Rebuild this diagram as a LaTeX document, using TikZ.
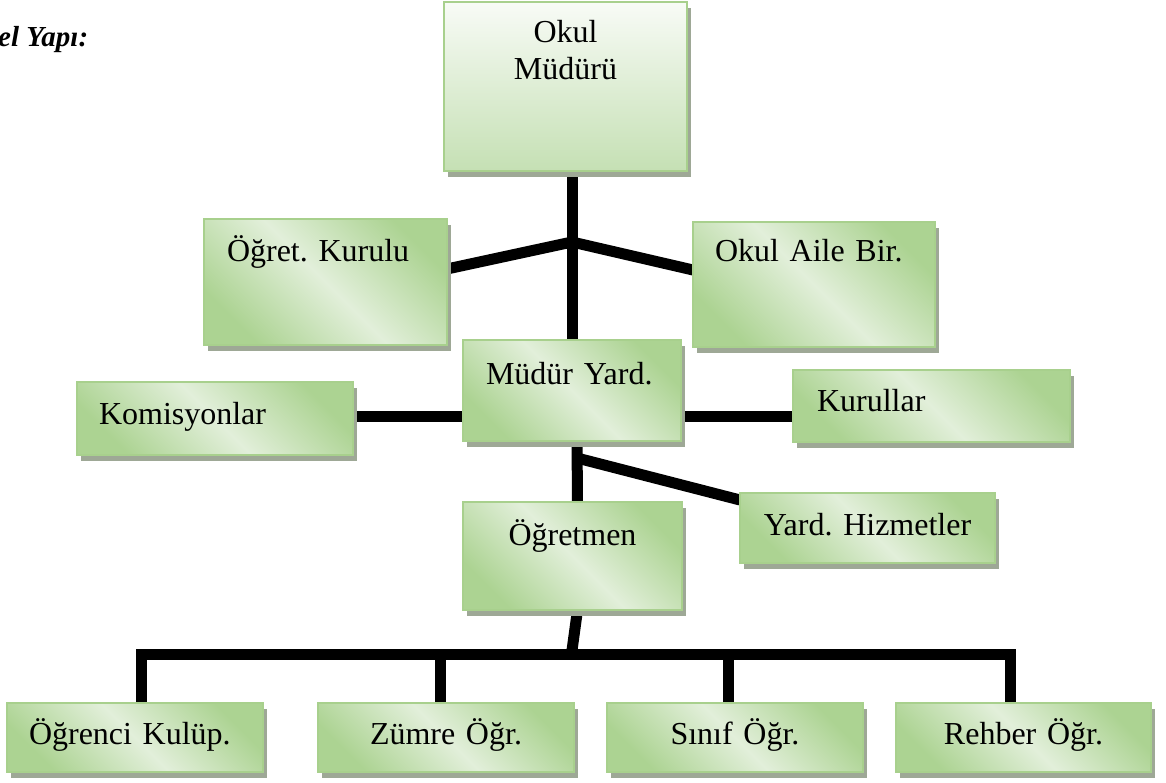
\documentclass[tikz,border=0pt]{standalone}
\usepackage{fontspec}
\setmainfont{Liberation Serif}
\usetikzlibrary{positioning,shadows,backgrounds}
\definecolor{boxedge}{RGB}{168,208,141}
\definecolor{boxgreen}{RGB}{172,211,146}
\definecolor{boxlight}{RGB}{226,239,218}
\definecolor{headtop}{RGB}{248,251,246}
\definecolor{headbottom}{RGB}{197,224,180}
\definecolor{shadowgray}{RGB}{158,168,150}
\frenchspacing

\begin{document}
\begin{tikzpicture}[x=1pt,y=-1pt,
    unit node/.style={draw=boxedge,line width=2pt,anchor=north west,inner ysep=0pt,outer sep=0pt,
        font=\fontsize{32}{37}\selectfont,align=left,
        drop shadow={shadow xshift=3.5pt,shadow yshift=-6pt,fill=shadowgray,opacity=1}},
    side node/.style={unit node,top color=boxgreen,bottom color=boxgreen,middle color=boxlight,shading angle=-45},
    head node/.style={unit node,top color=headtop,bottom color=headbottom,align=center},
    low node/.style={side node,align=center,inner xsep=0pt,text width=256pt,text height=41pt,text depth=28pt},
    link/.style={line width=11pt,line join=miter}]
    \useasboundingbox (0,0) rectangle (1166,783);

    \node[font=\fontsize{29}{34}\selectfont\bfseries\itshape,anchor=base west,inner sep=0pt] (0) at (-2,47) {el Yapı:};

    \node[head node] (1) [inner xsep=0pt,text width=243pt,text height=41pt,text depth=128pt] at (444,2) {Okul\\Müdürü};
    \node[side node] (2) [inner xsep=23pt,text width=197pt,text height=43pt,text depth=83pt] at (204,219) {Öğret. Kurulu};
    \node[side node] (3) [inner xsep=22pt,text width=198pt,text height=40pt,text depth=85pt] at (693,222) {Okul Aile Bir.};
    \node[side node] (4) [inner xsep=23pt,text width=172pt,text height=44pt,text depth=57pt] at (463,340) {Müdür Yard.};
    \node[side node] (5) [inner xsep=22pt,text width=232pt,text height=42pt,text depth=31pt] at (77,382) {Komisyonlar};
    \node[side node] (6) [inner xsep=24pt,text width=229pt,text height=41pt,text depth=31pt] at (793,370) {Kurullar};
    \node[side node] (7) [inner xsep=0pt,text width=219pt,align=center,text height=43pt,text depth=65pt] at (463,502) {Öğretmen};
    \node[side node] (8) [inner xsep=0pt,text width=255pt,align=center,text height=42pt,text depth=28pt] at (740,493) {Yard. Hizmetler};

    \node[low node] (9) [align=left,inner xsep=22pt,text width=212pt] at (7,703) {Öğrenci Kulüp.};
    \node[low node] (10) at (318,703) {Zümre Öğr.};
    \node[low node] (11) at (607,703) {Sınıf Öğr.};
    \node[low node] (12) [text width=255pt] at (896,703) {Rehber Öğr.};

    \begin{pgfonlayer}{background}
        \coordinate (top) at (4.north |- 1.south);
        \coordinate (j1) at ([yshift=-71pt]top);
        \coordinate (m1) at ([yshift=-25.5pt]4.west);
        \coordinate (m2) at ([yshift=-25.5pt]4.east);
        \coordinate (j2) at ([xshift=5pt,yshift=-17pt]4.south);
        \coordinate (j3) at ([xshift=5pt]7.south);
        \coordinate (bus) at ([xshift=-1pt,yshift=-44pt]7.south);
        \coordinate (d1) at ([xshift=6pt]9.north);
        \coordinate (d2) at ([xshift=-6pt]10.north);
        \coordinate (d3) at ([xshift=-7pt]11.north);
        \coordinate (d4) at ([xshift=-13pt]12.north);

        \draw[link] (top) -- (4.north);
        \draw[link] (j1) -- ([yshift=13pt]2.east);
        \draw[link] (j1) -- ([yshift=14.5pt]3.west);
        \draw[link] (m1) -- (m1 -| 5.east);
        \draw[link] (m2) -- (m2 -| 6.west);
        \draw[link] ([xshift=5pt]4.south) -- ([xshift=5pt]7.north);
        \draw[link] (j2) -- ([yshift=-7pt]8.north west);
        \draw[link] (j3) -- (bus);
        \draw[link] (d1) |- (d4 |- bus) -- (d4);
        \draw[link] (d2) -- (d2 |- bus);
        \draw[link] (d3) -- (d3 |- bus);
    \end{pgfonlayer}
\end{tikzpicture}
\end{document}
